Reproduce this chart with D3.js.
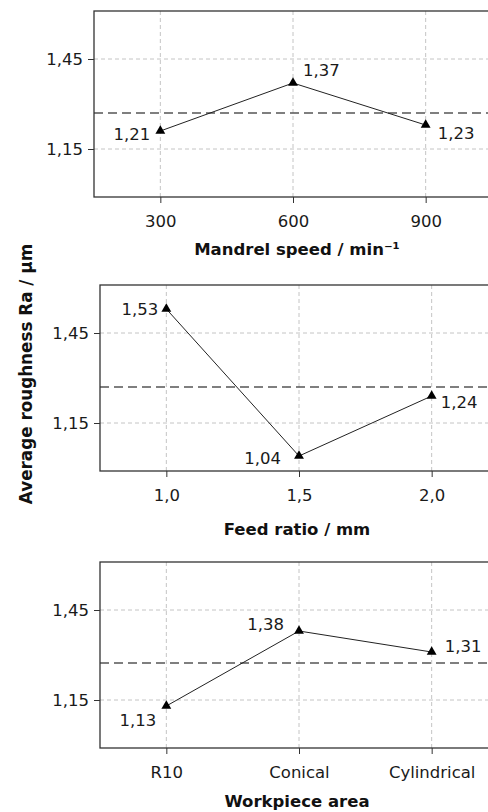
<!DOCTYPE html>
<html>
<head>
<meta charset="utf-8">
<script src="https://d3js.org/d3.v7.min.js"></script>
<style>
  body { margin: 0; background: #fff; }
  svg { display: block; font-family: "DejaVu Sans", Verdana, sans-serif; }
</style>
</head>
<body>
<svg width="488" height="812"></svg>
<script>
// data
var speedCats = ["300", "600", "900"];
var speedVals = [1.21, 1.37, 1.23];
var feedCats = ["1,0", "1,5", "2,0"];
var feedVals = [1.53, 1.04, 1.24];
var areaCats = ["R10", "Conical", "Cylindrical"];
var areaVals = [1.13, 1.38, 1.31];
var yTicks = [1.15, 1.45];
var yDomain = [0.99, 1.61];

var svg = d3.select("svg");
var fmt = function(v) { return d3.format(".2f")(v).replace(".", ","); };

// one entry per panel: layout + label placement (dx, dy, anchor)
var panels = [
  { cats: speedCats, vals: speedVals, title: "Mandrel speed / min⁻¹",
    left: 94, top: 11, titleY: 255,
    lab: [[-10, 9, "end"], [10, -7, "start"], [12, 14, "start"]] },
  { cats: feedCats, vals: feedVals, title: "Feed ratio / mm",
    left: 100, top: 285, titleY: 535,
    lab: [[-8, 6, "end"], [-18, 8, "end"], [9, 12, "start"]] },
  { cats: areaCats, vals: areaVals, title: "Workpiece area",
    left: 100, top: 562, titleY: 807,
    lab: [[-10, 20, "end"], [-15, -1, "end"], [13, 0, "start"]] }
];

// right edge of the frame runs just past the window
var plotW = 398, plotH = 186;

panels.forEach(function(p) {
  var g = svg.append("g");
  var x = d3.scalePoint().domain(p.cats).range([p.left, p.left + plotW]).padding(0.5);
  var y = d3.scaleLinear().domain(yDomain).range([p.top + plotH, p.top]);
  var bottom = p.top + plotH;

  // grid
  g.selectAll(".gy").data(yTicks).enter().append("line")
    .attr("x1", p.left).attr("x2", p.left + plotW)
    .attr("y1", d => y(d)).attr("y2", d => y(d))
    .attr("stroke", "#c4c4c4").attr("stroke-dasharray", "4,3");
  g.selectAll(".gx").data(p.cats).enter().append("line")
    .attr("x1", d => x(d)).attr("x2", d => x(d))
    .attr("y1", p.top).attr("y2", bottom)
    .attr("stroke", "#c4c4c4").attr("stroke-dasharray", "4,3");

  // mean line
  var m = d3.mean(p.vals);
  g.append("line")
    .attr("x1", p.left).attr("x2", p.left + plotW)
    .attr("y1", y(m)).attr("y2", y(m))
    .attr("stroke", "#555").attr("stroke-width", 1.6).attr("stroke-dasharray", "9,5");

  // frame
  g.append("rect")
    .attr("x", p.left).attr("y", p.top).attr("width", plotW).attr("height", plotH)
    .attr("fill", "none").attr("stroke", "#333").attr("stroke-width", 1.3);

  // axes
  var ya = g.append("g").attr("transform", "translate(" + p.left + ",0)")
    .call(d3.axisLeft(y).tickValues(yTicks).tickFormat(fmt).tickSize(6).tickPadding(5));
  var xa = g.append("g").attr("transform", "translate(0," + bottom + ")")
    .call(d3.axisBottom(x).tickSize(6).tickPadding(12));
  [ya, xa].forEach(function(a) {
    a.select(".domain").remove();
    a.selectAll("line").attr("stroke", "#333");
    a.selectAll("text").attr("font-size", 16.5).attr("fill", "#1a1a1a")
      .attr("font-family", "DejaVu Sans, Verdana, sans-serif");
  });

  // data line + markers
  var pts = p.cats.map((c, i) => [x(c), y(p.vals[i])]);
  g.append("path").attr("d", d3.line()(pts))
    .attr("fill", "none").attr("stroke", "#222").attr("stroke-width", 1);
  g.selectAll(".mk").data(pts).enter().append("path")
    .attr("transform", d => "translate(" + d[0] + "," + d[1] + ")")
    .attr("d", d3.symbol().type(d3.symbolTriangle).size(42)())
    .attr("fill", "#000");

  // value labels
  g.selectAll(".lb").data(pts).enter().append("text")
    .attr("x", (d, i) => d[0] + p.lab[i][0])
    .attr("y", (d, i) => d[1] + p.lab[i][1])
    .attr("text-anchor", (d, i) => p.lab[i][2])
    .attr("font-size", 16.5).attr("fill", "#1a1a1a")
    .text((d, i) => fmt(p.vals[i]));

  // x title
  g.append("text")
    .attr("x", 297).attr("y", p.titleY)
    .attr("text-anchor", "middle").attr("font-size", 16.5).attr("font-weight", "bold")
    .attr("fill", "#111").text(p.title);
});

// shared y title
svg.append("text")
  .attr("transform", "translate(32,374) rotate(-90)")
  .attr("text-anchor", "middle").attr("font-size", 16.8).attr("font-weight", "bold")
  .attr("fill", "#111").text("Average roughness Ra / µm");
</script>
</body>
</html>
